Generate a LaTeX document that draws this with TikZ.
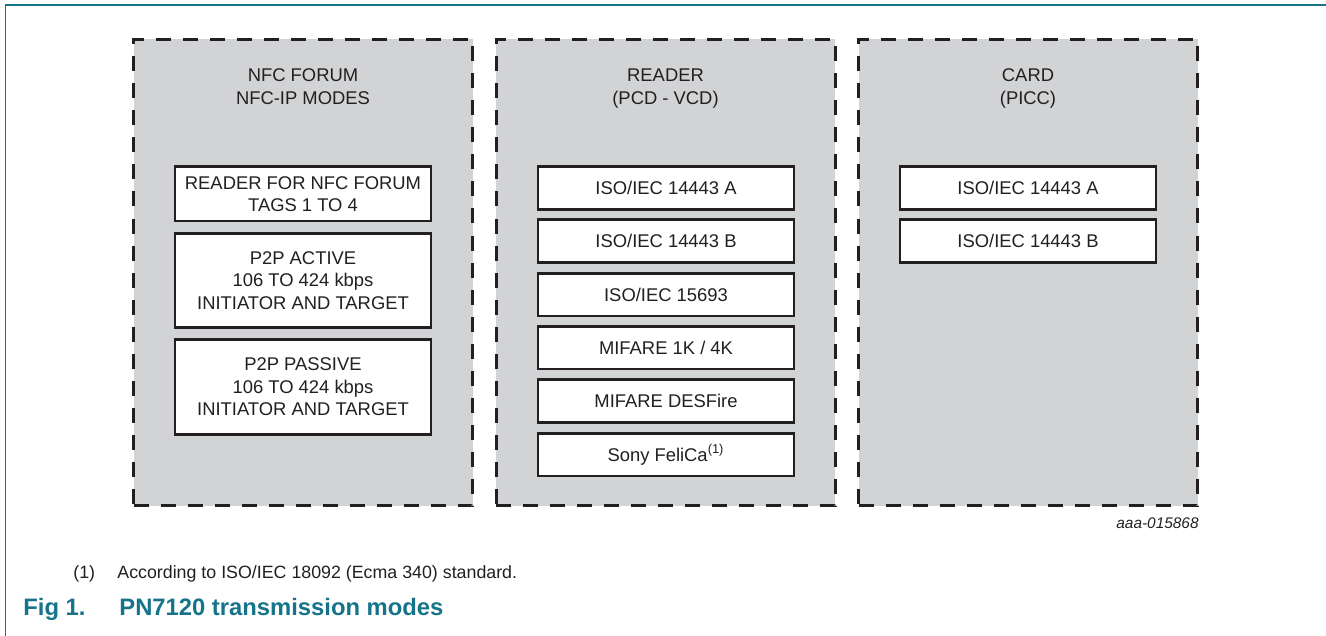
\documentclass[tikz,border=0pt]{standalone}
\usepackage{fontspec}
\setmainfont{Liberation Sans}
\usepackage{xcolor}
\usetikzlibrary{positioning}
\definecolor{nxpteal}{RGB}{22,116,138}
\definecolor{panelgrey}{RGB}{209,211,212}
\definecolor{inkdark}{RGB}{35,31,32}

\begin{document}
\begin{tikzpicture}[x=0.5pt,y=-0.5pt]
\tikzset{panel/.style = {draw=inkdark, fill=panelgrey, line width=1.5pt,
                         dash pattern=on 7.5pt off 6pt,
                         minimum width=169.5pt, minimum height=233pt, inner sep=0pt},
         title/.style = {align=center, font=\fontsize{9.2}{11.5}\selectfont, text=inkdark},
         mode/.style = {draw=inkdark, fill=white, line width=1.3pt, align=center,
                        minimum width=128pt, inner sep=0pt,
                        font=\fontsize{9.2}{11.3}\selectfont, text=inkdark},
         small/.style = {mode, minimum height=21.3pt},
         note/.style = {anchor=base west, inner sep=0pt, text=inkdark, font=\fontsize{8.9}{11}\selectfont},
         caption/.style = {anchor=base west, inner sep=0pt, text=nxpteal, font=\fontsize{11.9}{14}\selectfont\bfseries}}
\useasboundingbox (0,0) rectangle (1326,636);
            % frame
	\coordinate (fo) at (5.5,5);
	\coordinate (fr) at (1326,5);
	\coordinate (fb) at (5.5,636);
	\draw[nxpteal, line width=0.6pt] (fr) -- (fo) -- (fb);
            % panels
	\node[panel] (nfc) at (303,272.5) {};
	\node[panel] (reader) at (665.5,272.5) {};
	\node[panel] (card) at (1028,272.5) {};
	\node[title] (nfct) at (303,86.5) {NFC FORUM\\NFC-IP MODES};
	\node[title] (readert) at (665.5,88.5) {READER\\(PCD - VCD)};
	\node[title] (cardt) at (1028,88.5) {CARD\\(PICC)};
            % nfc forum modes
	\node[mode, minimum height=27.2pt] (tags) at (303,194) {READER FOR NFC FORUM\\TAGS 1 TO 4};
	\node[mode, minimum height=46.8pt] (active) at (303,280.5) {P2P ACTIVE\\106 TO 424 kbps\\INITIATOR AND TARGET};
	\node[mode, minimum height=47.3pt] (passive) at (303,387) {P2P PASSIVE\\106 TO 424 kbps\\INITIATOR AND TARGET};
            % reader modes
	\node[small] (ra) at (666,188) {ISO/IEC 14443 A};
	\node[small] (rb) at (666,241) {ISO/IEC 14443 B};
	\node[small] (rv) at (666,294.5) {ISO/IEC 15693};
	\node[small] (rm) at (666,347.5) {MIFARE 1K / 4K};
	\node[small] (rd) at (666,401) {MIFARE DESFire};
	\node[small] (rf) at (666,454.5) {Sony FeliCa\textsuperscript{(1)}};
            % card modes
	\node[small] (ca) at (1028,188) {ISO/IEC 14443 A};
	\node[small] (cb) at (1028,241) {ISO/IEC 14443 B};
            % notes
	\node[anchor=east, inner sep=0pt, text=inkdark, font=\fontsize{7.7}{9}\selectfont\itshape] (code) at (1199,523) {aaa-015868};
	\node[note] (fnnum) at (73,578) {(1)};
	\node[note] (fntext) at (117,578) {According to ISO/IEC 18092 (Ecma 340) standard.};
	\node[caption] (fignum) at (23,615.5) {Fig 1.};
	\node[caption] (figtext) at (119,615.5) {PN7120 transmission modes};
\end{tikzpicture}
\end{document}
